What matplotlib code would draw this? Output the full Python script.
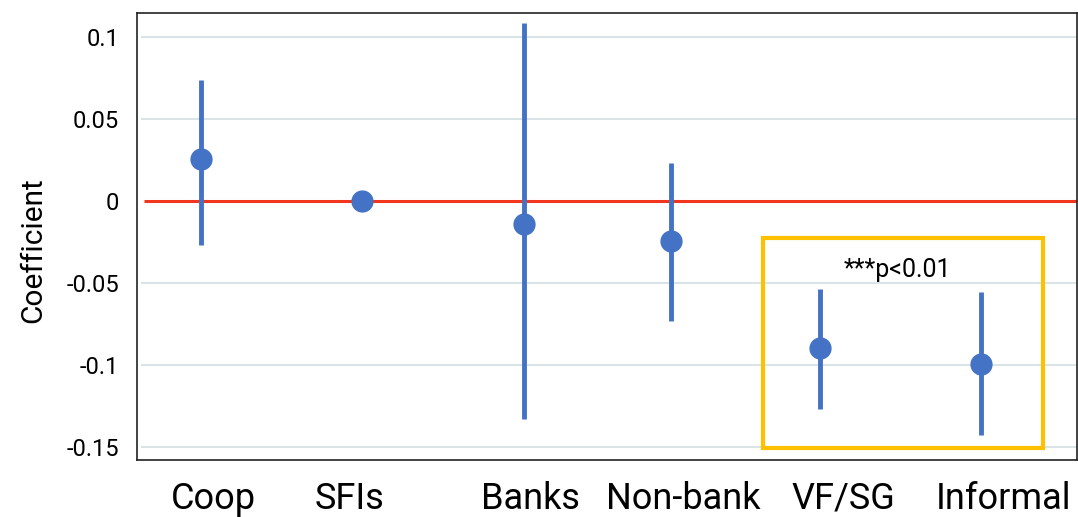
import numpy as np
import matplotlib
matplotlib.use('Agg')
import matplotlib.pyplot as plt

plt.rcParams['font.family'] = ['Roboto', 'DejaVu Sans']

# coefficient estimates with confidence bounds
categories = ['Coop', 'SFIs', 'Banks', 'Non-bank', 'VF/SG', 'Informal']
coef = [0.0256, -0.0003, -0.0140, -0.0245, -0.0896, -0.0994]
ci_low = [-0.0268, -0.0003, -0.1330, -0.0730, -0.1270, -0.1427]
ci_high = [0.0738, -0.0003, 0.1085, 0.0230, -0.0537, -0.0555]

# horizontal placement of points and category labels
x_points = [0, 1.006, 2.019, 2.938, 3.869, 4.875]
x_labels = [0.075, 0.931, 2.056, 3.013, 4.013, 5.013]

yticks = [0.1, 0.05, 0, -0.05, -0.1, -0.15]
ytick_labels = ['0.1', '0.05', '0', '-0.05', '-0.1', '-0.15']

blue = '#4472C4'

fig = plt.figure(figsize=(10.78, 5.17), dpi=100)
ax = fig.add_axes([137/1078, 57/517, 940/1078, 447/517])
ax.set_xlim(-0.4, 5.475)
ax.set_ylim(-0.158, 0.1146)

# light gridlines
for y in yticks:
    if y != 0:
        ax.hlines(y, -0.375, 5.475, color='#D5E2E5', lw=1.3, zorder=1)
ax.hlines(0, -0.356, 5.475, color='#F2361D', lw=2.2, zorder=2)

# vertical confidence intervals + dots
ax.vlines(x_points, ci_low, ci_high, color=blue, lw=3.5, zorder=3)
ax.plot(x_points, coef, 'o', color=blue, ms=15, zorder=4)

# highlight box around the significant ones
box = plt.Rectangle((3.513, -0.1506), 1.75, 0.128, fill=False,
                    edgecolor='#FFC000', lw=3, zorder=5)
ax.add_patch(box)
ax.text(4.35, -0.042, '***p<0.01', ha='center', va='center', fontsize=18, zorder=6)

ax.set_yticks(yticks)
ax.set_yticklabels(ytick_labels, fontsize=17)
ax.tick_params(axis='y', length=0, pad=13)
ax.set_xticks(x_labels)
ax.set_xticklabels(categories, fontsize=26)
ax.tick_params(axis='x', length=0, pad=15)

for s in ax.spines.values():
    s.set_color('#222222')
    s.set_linewidth(1.2)

ax.set_ylabel('Coefficient', fontsize=21.5)
ax.yaxis.set_label_coords(-0.095, 0.47)

plt.savefig('out.png', dpi=100)
